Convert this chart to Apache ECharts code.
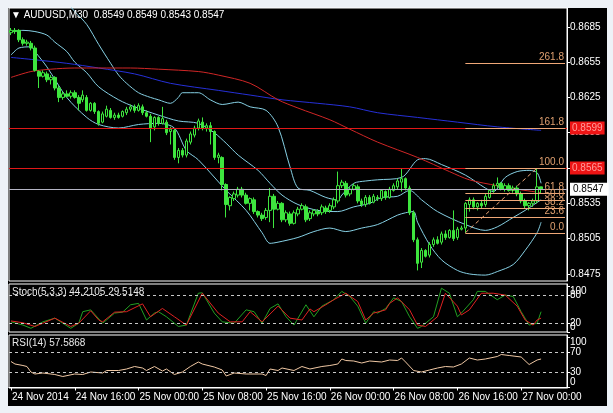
<!DOCTYPE html>
<html><head><meta charset="utf-8">
<script src="https://cdn.jsdelivr.net/npm/echarts@6/dist/echarts.min.js"></script>
<style>
html,body{margin:0;padding:0;background:#eef2f7;overflow:hidden;}
#bg{position:absolute;left:8px;top:8px;width:599px;height:398px;background:#000;}
#c{position:absolute;left:0;top:0;width:613px;height:413px;}
</style></head><body>
<div id="bg"></div><div id="c"></div>
<script>
// Prices are stored as price x 10000 (e.g. 8547 = 0.8547)
const open  = [8680,8682,8682,8674,8671,8671,8667,8647,8643,8645,8640,8642,8633,8625,8628,8626,8629,8625,8623,8625,8614,8620,8613,8604,8609,8614,8608,8610,8609,8612,8615,8617,8614,8617,8612,8609,8600,8608,8603,8604,8596,8597,8574,8580,8576,8587,8593,8599,8604,8599,8601,8596,8574,8574,8551,8533,8539,8542,8547,8542,8535,8538,8528,8525,8523,8529,8541,8530,8535,8521,8526,8518,8526,8530,8532,8522,8526,8528,8527,8531,8529,8532,8537,8550,8552,8543,8547,8549,8537,8534,8540,8536,8540,8539,8545,8540,8546,8549,8553,8556,8548,8527,8504,8485,8495,8491,8500,8504,8502,8509,8506,8512,8506,8513,8514,8534,8538,8532,8535,8534,8540,8546,8550,8552,8547,8550,8546,8548,8543,8537,8533,8535,8537,8549];
const high  = [8684,8684,8683,8676,8674,8673,8669,8648,8648,8647,8644,8643,8635,8630,8631,8631,8631,8627,8631,8627,8621,8621,8614,8613,8618,8616,8612,8612,8614,8617,8619,8619,8620,8619,8614,8611,8609,8609,8617,8606,8600,8599,8582,8582,8590,8596,8601,8607,8608,8603,8604,8597,8578,8575,8552,8541,8545,8549,8549,8544,8540,8540,8529,8527,8531,8548,8543,8537,8536,8529,8528,8529,8532,8535,8534,8529,8530,8530,8534,8533,8535,8540,8562,8555,8554,8549,8552,8551,8539,8542,8542,8543,8542,8547,8546,8549,8552,8556,8565,8557,8550,8529,8506,8497,8496,8502,8506,8507,8511,8512,8513,8529,8515,8516,8536,8540,8540,8536,8538,8543,8547,8552,8557,8553,8552,8552,8550,8550,8545,8539,8536,8539,8565,8549];
const low   = [8678,8679,8672,8669,8669,8665,8647,8633,8642,8638,8636,8631,8621,8623,8625,8624,8624,8614,8621,8613,8613,8611,8601,8603,8608,8607,8606,8607,8608,8610,8613,8612,8613,8610,8608,8587,8597,8601,8602,8593,8585,8572,8569,8574,8574,8585,8591,8597,8597,8596,8585,8572,8569,8546,8523,8529,8537,8540,8540,8534,8529,8526,8523,8520,8521,8519,8514,8529,8519,8519,8516,8517,8524,8529,8519,8520,8524,8524,8525,8526,8527,8530,8535,8548,8540,8541,8546,8535,8532,8532,8534,8535,8537,8537,8538,8539,8545,8547,8545,8546,8525,8502,8478,8480,8489,8489,8498,8500,8500,8504,8505,8503,8504,8512,8510,8528,8530,8529,8531,8532,8539,8544,8548,8546,8545,8545,8544,8541,8535,8531,8529,8532,8535,8543];
const close = [8682,8681,8674,8671,8672,8667,8648,8643,8646,8640,8642,8633,8625,8628,8626,8629,8625,8620,8627,8614,8620,8613,8603,8611,8615,8608,8610,8608,8613,8615,8617,8614,8618,8612,8609,8599,8608,8603,8607,8595,8598,8574,8580,8576,8588,8594,8599,8605,8599,8601,8596,8574,8576,8551,8534,8540,8543,8547,8542,8535,8539,8528,8525,8522,8529,8541,8530,8535,8521,8527,8518,8527,8530,8533,8521,8527,8529,8526,8532,8528,8533,8538,8550,8553,8542,8547,8550,8537,8534,8540,8535,8541,8539,8546,8540,8547,8550,8554,8556,8548,8527,8504,8484,8495,8490,8500,8504,8501,8509,8506,8512,8505,8513,8514,8535,8538,8532,8535,8533,8541,8546,8550,8552,8547,8550,8546,8548,8543,8537,8533,8535,8537,8549,8547];

// Indicator readings: [bar index, value]
const bbUpper = [[0,8706],[5,8705],[10,8708],[14,8705],[16,8698],[19,8687],[22,8670],[25,8654],[27,8644],[29,8637],[32,8629],[35,8625],[37,8623],[40,8620],[42,8625],[43,8629],[47,8629],[50,8623],[53,8619],[57,8621],[60,8617],[64,8614],[67,8600],[70,8566],[72,8548],[75,8546],[79,8540],[82,8538],[83,8542],[86,8552],[89,8554],[92,8555],[98,8557],[102,8572],[104,8573],[108,8568],[114,8559],[119,8548],[121,8545],[124,8557],[127,8562],[130,8563],[132,8561],[133,8552]];
const bbMiddle = [[0,8681],[3,8682],[6,8681],[9,8678],[11,8672],[14,8664],[16,8655],[19,8646],[22,8634],[27,8623],[31,8617],[37,8610],[42,8605],[47,8603],[51,8595],[54,8586],[57,8576],[62,8563],[65,8552],[68,8542],[72,8534],[77,8529],[82,8528],[86,8532],[90,8535],[93,8540],[97,8541],[100,8546],[103,8538],[107,8528],[114,8517],[119,8512],[122,8515],[126,8523],[129,8529],[133,8538]];
const bbLower = [[0,8661],[2,8667],[5,8668],[6,8664],[9,8651],[14,8625],[19,8608],[22,8602],[27,8599],[32,8602],[37,8603],[41,8599],[44,8580],[47,8572],[54,8546],[59,8529],[63,8510],[65,8501],[67,8502],[72,8506],[76,8511],[80,8514],[84,8511],[88,8514],[92,8517],[97,8525],[99,8527],[101,8528],[102,8519],[105,8500],[108,8487],[112,8478],[115,8475],[119,8474],[122,8477],[126,8483],[129,8495],[132,8510],[133,8519]];
const maRed = [[0,8642],[5,8647],[10,8649],[16,8650],[22,8650],[30,8650],[37,8649],[47,8647],[52,8644],[60,8637],[67,8623],[72,8616],[80,8606],[85,8598],[92,8587],[102,8574],[110,8562],[115,8555],[122,8550],[127,8547],[133,8544]];
const maBlue = [[0,8659],[6,8657],[14,8654],[22,8650],[31,8645],[40,8637],[52,8631],[60,8627],[68,8623],[77,8620],[85,8617],[92,8612],[102,8608],[112,8604],[122,8600],[133,8597]];
const stochMain = [[0,22],[3,15],[5,8],[8,22],[11,30],[15,8],[17,19],[18,44],[20,48],[23,19],[26,41],[28,43],[30,59],[32,62],[34,26],[36,41],[37,44],[39,33],[42,12],[44,15],[47,84],[48,85],[51,41],[53,22],[56,19],[59,48],[61,44],[63,19],[65,51],[67,61],[69,33],[71,15],[74,59],[76,33],[78,56],[81,70],[83,88],[85,77],[87,56],[89,19],[91,44],[92,41],[94,51],[96,74],[98,66],[100,33],[102,8],[103,12],[106,33],[108,95],[110,84],[112,33],[113,41],[116,70],[117,88],[119,88],[122,70],[124,80],[126,77],[128,44],[130,15],[132,19],[133,44]];
const stochSignal = [[0,24],[3,20],[6,12],[8,19],[11,30],[15,12],[17,19],[20,46],[22,26],[23,22],[26,43],[29,44],[33,61],[35,33],[38,51],[41,33],[44,15],[48,84],[52,41],[55,22],[58,22],[60,44],[63,22],[67,56],[70,30],[73,26],[75,50],[76,44],[79,59],[81,70],[84,84],[87,66],[89,26],[91,41],[94,48],[95,62],[97,74],[100,48],[102,15],[104,12],[107,33],[109,84],[112,56],[113,37],[115,48],[118,84],[121,84],[124,80],[127,56],[129,26],[131,15],[132,26],[133,30]];
const rsi = [[0,52],[1,47],[3,44],[4,42],[5,31],[6,27],[8,29],[11,26],[13,22],[16,27],[18,26],[20,31],[23,29],[24,34],[27,34],[29,37],[31,42],[33,39],[34,34],[36,42],[38,33],[39,37],[41,26],[43,31],[45,42],[47,51],[48,47],[51,41],[53,35],[54,23],[56,29],[59,27],[63,27],[64,24],[65,37],[67,34],[68,39],[71,34],[73,42],[75,37],[78,42],[80,44],[82,47],[83,57],[84,54],[86,53],[88,49],[90,53],[93,51],[95,55],[97,54],[98,59],[99,51],[101,34],[103,31],[105,35],[107,39],[109,42],[111,41],[113,47],[115,59],[117,55],[119,57],[122,62],[123,66],[125,64],[128,61],[130,46],[132,55],[133,57]];

const tickLabels = ['24 Nov 2014','24 Nov 16:00','25 Nov 00:00','25 Nov 08:00','25 Nov 16:00','26 Nov 00:00','26 Nov 08:00','26 Nov 16:00','27 Nov 00:00'];
const priceTicks = [8475,8505,8535,8565,8595,8625,8655,8685];
const hLines = [8599, 8565];
const lastPrice = 8547;
const fibLow = 8510, fibHigh = 8565, fibStartBar = 114, fibEndBar = 132;
const fibLevels = [0, 23.6, 38.2, 50, 61.8, 100, 161.8, 261.8];
const stochLevels = [20, 80];
const rsiLevels = [30, 70];
const panelScale = [0, 100];

const TOTAL_SLOTS = 140, TICK_EVERY = 16;
const categories = Array.from({length: TOTAL_SLOTS}, (_, i) => i);
const FONT = "'Liberation Sans','DejaVu Sans',sans-serif";
const W = '#ffffff';
const candles = open.map((o, i) => [o, close[i], low[i], high[i]]);
const fmtP = v => (v / 10000).toFixed(4);
const isTick = (idx) => idx % TICK_EVERY === 0 && idx / TICK_EVERY < tickLabels.length;

const fibColor = '#f0a878';
const markData = [];
hLines.forEach(v => markData.push({
  yAxis: v, lineStyle: {color: '#e01818', width: 1, type: 'solid'},
  label: {show: true, position: 'end', distance: 3, formatter: fmtP(v), color: '#ff9c9c',
    backgroundColor: '#ee1414', padding: [2, 2, 1, 2], fontSize: 10, fontFamily: FONT}
}));
markData.push({
  yAxis: lastPrice, lineStyle: {color: '#b4b4c4', width: 1, type: 'solid'},
  label: {show: true, position: 'end', distance: 3, formatter: fmtP(lastPrice), color: '#000',
    backgroundColor: '#fff', padding: [2, 5, 1, 3], fontSize: 10, fontFamily: FONT}
});
fibLevels.forEach(l => {
  const v = fibLow + (fibHigh - fibLow) * l / 100;
  markData.push([
    {coord: [fibStartBar, v], lineStyle: {color: fibColor, width: 1, type: 'solid'},
     label: {show: true, position: 'insideEndTop', distance: 1, formatter: l.toFixed(1), color: '#e0a070', fontSize: 10, fontFamily: FONT}},
    {coord: [TOTAL_SLOTS - 1, v]}
  ]);
});
markData.push([
  {coord: [fibStartBar, fibLow], lineStyle: {color: fibColor, width: 1, type: [4, 3]}, label: {show: false}},
  {coord: [fibEndBar, fibHigh]}
]);

const lineS = (name, data, color, x, y, extra) => Object.assign({
  name, type: 'line', data, xAxisIndex: x, yAxisIndex: y, symbol: 'none', silent: true,
  lineStyle: {color, width: 1}, itemStyle: {color}, z: 3, animation: false
}, extra || {});

// dashed level lines plus the MT4-style scale-end texts (100 / 0) of an indicator panel
const panelMarks = (levels) => ({
  silent: true, symbol: ['none', 'none'], animation: false,
  data: levels.map(v => ({
    yAxis: v, lineStyle: {color: '#c8c8c8', width: 1, type: [3, 3]}, label: {show: false}
  })).concat(panelScale.map(v => ({
    yAxis: v, lineStyle: {color: 'rgba(0,0,0,0)', width: 0},
    label: {show: true, position: 'end', distance: 3, formatter: String(v), color: W, opacity: 1,
      fontSize: 10, fontFamily: FONT, verticalAlign: v === 0 ? 'bottom' : 'top', align: 'left'}
  })))
});

const hiddenX = (g) => ({type: 'category', gridIndex: g, data: categories, boundaryGap: true, show: false});
const yBase = (g, min, max, ticks, labels, fmt) => ({
  type: 'value', gridIndex: g, position: 'right', min, max, scale: true,
  axisLine: {show: true, lineStyle: {color: W}},
  axisTick: {show: true, length: 3, customValues: ticks, lineStyle: {color: W}},
  axisLabel: {show: true, customValues: labels, formatter: fmt, color: W, fontSize: 10, margin: 3, fontFamily: FONT},
  splitLine: {show: false}
});

const chart = echarts.init(document.getElementById('c'), null, {renderer: 'canvas'});
chart.setOption({
  backgroundColor: 'transparent',
  animation: false,
  textStyle: {fontFamily: FONT},
  title: [
    {text: '\u25BC AUDUSD,M30  0.8549 0.8549 0.8543 0.8547', left: 11, top: 10, padding: 0,
     textStyle: {color: W, fontSize: 10, fontWeight: 'normal', fontFamily: FONT}},
    {text: 'Stoch(5,3,3) 44.2105 29.5148', left: 12, top: 287, padding: 0,
     textStyle: {color: '#e8e8e8', fontSize: 10, fontWeight: 'normal', fontFamily: FONT}},
    {text: 'RSI(14) 57.5868', left: 12, top: 338, padding: 0,
     textStyle: {color: '#e8e8e8', fontSize: 10, fontWeight: 'normal', fontFamily: FONT}}
  ],
  grid: [
    {left: 9, top: 8, width: 558, height: 273, show: true, borderColor: W, borderWidth: 1, backgroundColor: 'transparent'},
    {left: 9, top: 284, width: 558, height: 48, show: true, borderColor: W, borderWidth: 1, backgroundColor: 'transparent'},
    {left: 9, top: 335, width: 558, height: 53, show: true, borderColor: W, borderWidth: 1, backgroundColor: 'transparent'}
  ],
  xAxis: [
    hiddenX(0), hiddenX(1),
    {type: 'category', gridIndex: 2, data: categories, boundaryGap: true,
     axisLine: {show: true, lineStyle: {color: W}},
     axisTick: {show: true, alignWithLabel: true, interval: isTick, length: 3, lineStyle: {color: W}},
     axisLabel: {show: true, interval: isTick, formatter: (v, i) => tickLabels[Math.round(i / TICK_EVERY)] || '',
       color: W, fontSize: 10, align: 'left', margin: 4, padding: [0, 0, 0, 1], fontFamily: FONT},
     splitLine: {show: false}}
  ],
  yAxis: [
    yBase(0, 8469, 8701, priceTicks, priceTicks, fmtP),
    yBase(1, 0, 104, stochLevels.concat(panelScale), stochLevels, v => String(v)),
    yBase(2, -1, 105, rsiLevels.concat(panelScale), rsiLevels, v => String(v))
  ],
  series: [
    lineS('BB upper', bbUpper, '#86d0e4', 0, 0, {smooth: 0.3}),
    lineS('BB middle', bbMiddle, '#86d0e4', 0, 0, {smooth: 0.3}),
    lineS('BB lower', bbLower, '#86d0e4', 0, 0, {smooth: 0.3}),
    lineS('MA blue', maBlue, '#2630d8', 0, 0, {smooth: 0.3}),
    lineS('MA red', maRed, '#d02626', 0, 0, {smooth: 0.3}),
    {
      name: 'AUDUSD', type: 'candlestick', data: candles, xAxisIndex: 0, yAxisIndex: 0,
      barWidth: 3, silent: true, z: 4, animation: false,
      itemStyle: {color: '#000000', color0: '#3ee63e', borderColor: '#3ee63e', borderColor0: '#3ee63e', borderWidth: 1},
      markLine: {silent: true, symbol: ['none', 'none'], animation: false, data: markData}
    },
    lineS('Stoch main', stochMain, '#22a022', 1, 1, {markLine: panelMarks(stochLevels)}),
    lineS('Stoch signal', stochSignal, '#e02222', 1, 1),
    lineS('RSI', rsi, '#f0c8a4', 2, 2, {markLine: panelMarks(rsiLevels)})
  ]
});
</script>
</body></html>
